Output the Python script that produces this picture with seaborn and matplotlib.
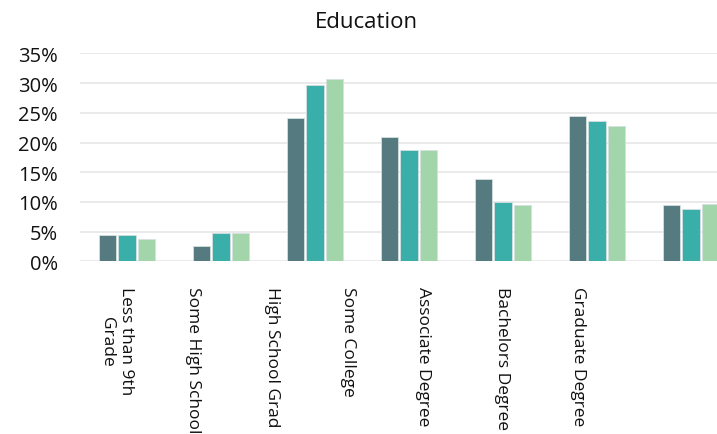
import matplotlib
matplotlib.use("Agg")
import matplotlib.pyplot as plt
import seaborn as sns
import pandas as pd
from matplotlib.ticker import PercentFormatter

categories = ["Less than 9th\nGrade", "Some High School", "High School Grad", "Some College",
              "Associate Degree", "Bachelors Degree", "Graduate Degree"]
series_names = ["Series A", "Series B", "Series C"]
series_a = [4.4, 2.5, 24.1, 21.0, 13.9, 24.4, 9.5]
series_b = [4.5, 4.8, 29.6, 18.7, 10.0, 23.6, 8.75]
series_c = [3.7, 4.8, 30.7, 18.7, 9.5, 22.7, 9.7]
colors = ["#557B80", "#3AAFA9", "#A3D5AB"]
yticks = [0, 5, 10, 15, 20, 25, 30, 35]
label_positions = [-0.11, 0.70, 1.54, 2.35, 3.15, 3.99, 4.80]

rows = []
for name, vals in zip(series_names, [series_a, series_b, series_c]):
    for cat, v in zip(categories, vals):
        rows.append({"category": cat, "series": name, "value": v})
df = pd.DataFrame(rows)

sns.set_theme(style="white")
plt.rcParams["font.family"] = ["Open Sans", "DejaVu Sans"]

fig = plt.figure(figsize=(7.17, 4.35), dpi=100)
W, H = 717, 435
left, right, top, bottom = 80, 738, 54.4, 262.3
ax = fig.add_axes([left / W, 1 - bottom / H, (right - left) / W, (bottom - top) / H])

sns.barplot(data=df, x="category", y="value", hue="series", order=categories,
            hue_order=series_names, palette=colors, saturation=1, width=0.63, gap=0.12,
            edgecolor="#D5E0E0", linewidth=0.6, legend=False, ax=ax)

ax.set_xlim(-0.5, 6.5)
ax.set_ylim(0, 35)
ax.set_yticks(yticks)
ax.yaxis.set_major_formatter(PercentFormatter(decimals=0))
ax.grid(axis="y", color="#E8E8E8", linewidth=1.3)
ax.set_axisbelow(True)
for s in ax.spines.values():
    s.set_visible(False)
ax.set_xlabel("")
ax.set_ylabel("")
ax.tick_params(axis="y", labelsize=14.5, colors="#111111", length=0, pad=16)
ax.set_xticks(label_positions)
ax.set_xticklabels(categories, rotation=270, ha="center", va="top", fontsize=12.5, color="#111111")
ax.tick_params(axis="x", length=0, pad=18)

fig.text(366.5 / W, 1 - 22 / H, "Education", ha="center", va="center", fontsize=16, color="#111111")

fig.savefig("out.png", dpi=100)
